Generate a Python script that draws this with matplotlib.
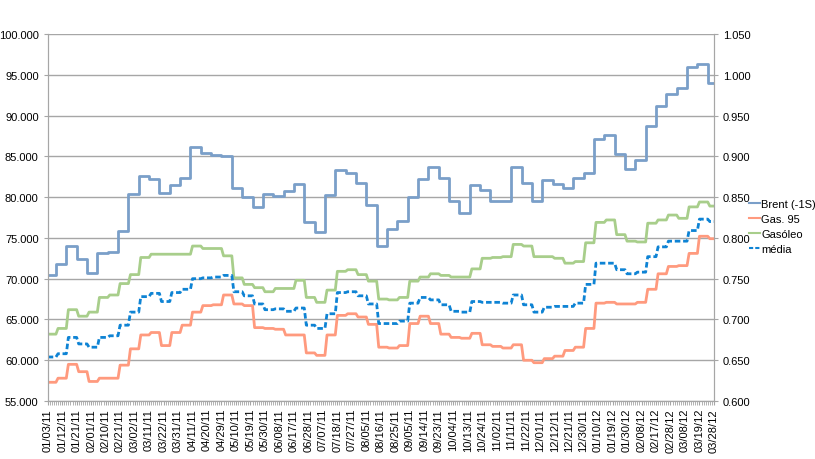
import numpy as np
import pandas as pd
import matplotlib
matplotlib.use("Agg")
import matplotlib.pyplot as plt
from matplotlib.ticker import FuncFormatter, MultipleLocator

plt.rcParams['font.family'] = ['Liberation Sans', 'DejaVu Sans']

# business days shown on the category axis
days = pd.bdate_range("2011-01-03", "2012-03-28")

# Brent (-1S), weekly values (left axis), changes at end of each week
brent = [70.5, 71.8, 74.05, 72.4, 70.65, 73.1, 73.3, 75.8, 80.4, 82.6,
         82.2, 80.55, 81.45, 82.4, 86.2, 85.4, 85.2, 85.1, 81.1, 80.0,
         78.75, 80.35, 80.1, 80.75, 81.55, 77.0, 75.75, 80.25, 83.3, 83.0,
         81.7, 79.05, 73.95, 76.15, 77.05, 80.05, 82.2, 83.7, 82.3, 79.5,
         78.0, 81.5, 80.9, 79.55, 79.55, 83.65, 81.7, 79.5, 82.1, 81.6,
         81.1, 82.4, 82.95, 87.1, 87.6, 85.3, 83.45, 84.6, 88.7, 91.15,
         92.65, 93.35, 96.0, 96.3, 94.0]

# weekly fuel values (right axis)
gas95 = [0.623, 0.628, 0.645, 0.636, 0.624, 0.628, 0.628, 0.644, 0.664, 0.681,
         0.684, 0.668, 0.684, 0.693, 0.709, 0.717, 0.718, 0.730, 0.719, 0.717,
         0.690, 0.689, 0.688, 0.681, 0.681, 0.659, 0.656, 0.681, 0.705, 0.707,
         0.703, 0.694, 0.666, 0.665, 0.668, 0.695, 0.704, 0.695, 0.682, 0.678,
         0.677, 0.683, 0.669, 0.667, 0.665, 0.669, 0.650, 0.647, 0.652, 0.655,
         0.662, 0.666, 0.689, 0.720, 0.721, 0.719, 0.719, 0.721, 0.737, 0.756,
         0.765, 0.766, 0.781, 0.802, 0.799]

gasoleo = [0.682, 0.689, 0.712, 0.704, 0.709, 0.727, 0.730, 0.744, 0.755, 0.776,
           0.780, 0.780, 0.780, 0.780, 0.790, 0.787, 0.787, 0.778, 0.751, 0.743,
           0.739, 0.734, 0.738, 0.738, 0.748, 0.727, 0.721, 0.736, 0.759, 0.761,
           0.755, 0.747, 0.725, 0.724, 0.727, 0.747, 0.752, 0.756, 0.754, 0.752,
           0.752, 0.762, 0.775, 0.776, 0.777, 0.792, 0.790, 0.777, 0.777, 0.775,
           0.769, 0.771, 0.794, 0.819, 0.822, 0.804, 0.796, 0.795, 0.818, 0.822,
           0.828, 0.824, 0.838, 0.844, 0.839]

media = [0.654, 0.658, 0.678, 0.670, 0.666, 0.678, 0.680, 0.693, 0.709, 0.728,
         0.732, 0.722, 0.733, 0.737, 0.750, 0.751, 0.752, 0.754, 0.734, 0.729,
         0.719, 0.712, 0.713, 0.710, 0.714, 0.693, 0.689, 0.707, 0.733, 0.734,
         0.729, 0.719, 0.695, 0.695, 0.698, 0.720, 0.727, 0.724, 0.718, 0.710,
         0.709, 0.722, 0.721, 0.721, 0.720, 0.730, 0.718, 0.709, 0.715, 0.716,
         0.716, 0.720, 0.743, 0.769, 0.769, 0.761, 0.756, 0.758, 0.777, 0.789,
         0.796, 0.796, 0.809, 0.823, 0.820]

n = len(days)
last = n - 1

# Brent steps: first change after 4 days, then every 5
bx = [0] + [5 * k - 1 for k in range(1, len(brent))] + [last]
by = brent + [brent[-1]]

# fuel weeks: value held from Monday to Friday
wx = []
for k in range(len(gas95)):
    wx += [5 * k, min(5 * k + 4, last)]


def weekly(v):
    return np.repeat(v, 2)


fig = plt.figure(figsize=(8.15, 4.6), dpi=100)
ax = fig.add_axes([0.0585, 0.126, 0.8175, 0.798])
ax2 = ax.twinx()

grid_c = '#A6A6A6'
l1, = ax.plot(bx, by, drawstyle='steps-post', color='#7A9FC9', lw=2.0)
l2, = ax2.plot(wx, weekly(gas95), color='#FF9A7E', lw=2.0)
l3, = ax2.plot(wx, weekly(gasoleo), color='#A8CE8B', lw=2.0)
l4, = ax2.plot(wx, weekly(media), color='#0E83D4', lw=2.0, dashes=(2.0, 1.0))

ax.set_xlim(0, last)
ax.set_ylim(55, 100)
ax2.set_ylim(0.6, 1.05)
ax.yaxis.set_major_locator(MultipleLocator(5))
ax2.yaxis.set_major_locator(MultipleLocator(0.05))
ax.yaxis.set_major_formatter(FuncFormatter(lambda v, p: f"{v:.3f}"))
ax2.yaxis.set_major_formatter(FuncFormatter(lambda v, p: f"{v:.3f}"))
ax.grid(axis='y', color=grid_c, lw=1.0)
ax.set_axisbelow(True)

ticks = list(range(0, n, 7))
ax.set_xticks(ticks)
ax.set_xticklabels([days[i].strftime("%m/%d/%y") for i in ticks], rotation=90)
ax.set_xticks(range(n), minor=True)

for a in (ax, ax2):
    for s in a.spines.values():
        s.set_color(grid_c)
    a.spines['top'].set_visible(False)
    a.tick_params(labelsize=8, colors=grid_c, labelcolor='black', length=3)
ax.tick_params(axis='x', which='both', length=3, color=grid_c, pad=2)
ax.tick_params(axis='x', which='minor', length=3)

fig.legend([l1, l2, l3, l4], ["Brent (-1S)", "Gas. 95", "Gasóleo", "média"],
           loc='center left', bbox_to_anchor=(0.912, 0.505), frameon=False,
           fontsize=8, handlelength=1.0, handletextpad=0.1, labelspacing=0.45,
           borderpad=0)
for h in fig.legends[0].get_lines():
    h.set_linewidth(1.5)

fig.savefig("out.png", dpi=100)
